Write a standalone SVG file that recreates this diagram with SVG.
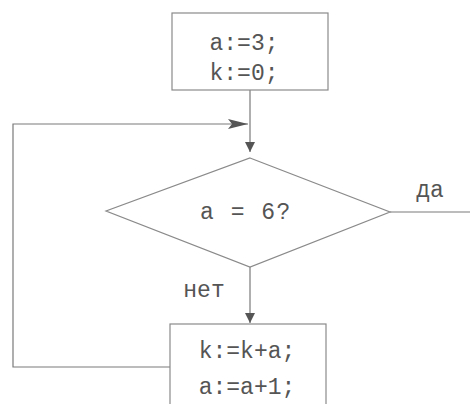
<svg xmlns="http://www.w3.org/2000/svg" width="470" height="404" viewBox="0 0 470 404">
<defs>
<style>
.box{fill:#fff;stroke:#8a8a8a;stroke-width:1.2}
.ln{fill:none;stroke:#7a7a7a;stroke-width:1.2}
.t{font-family:"Liberation Mono","Courier New",monospace;font-size:23px;fill:#555}
</style>
<marker id="ah" viewBox="0 0 10 10" refX="10" refY="5" markerWidth="10" markerHeight="10" markerUnits="userSpaceOnUse" orient="auto">
<path d="M0,0 L10,5 L0,10 z" fill="#555"/>
</marker>
<marker id="ahl" viewBox="0 0 20 10" refX="20" refY="5" markerWidth="20" markerHeight="10" markerUnits="userSpaceOnUse" orient="auto">
<path d="M0,0 L20,5 L0,10 L4,5 z" fill="#555"/>
</marker>
</defs>
<rect width="470" height="404" fill="#fff"/>
<g id="connectors">
<path class="ln" d="M250,90 V152" marker-end="url(#ah)"/>
<path class="ln" d="M170,367 H13 V124 H248" marker-end="url(#ahl)"/>
<path class="ln" d="M250,267 V323" marker-end="url(#ah)"/>
<path class="ln" d="M390,212 H470"/>
<text class="t" x="430" y="197" text-anchor="middle">да</text>
<text class="t" x="204" y="297" text-anchor="middle">нет</text>
</g>
<g id="init">
<rect class="box" x="172" y="13" width="156" height="77"/>
<text class="t" x="244" y="50" text-anchor="middle">a:=3;</text>
<text class="t" x="244" y="80" text-anchor="middle">k:=0;</text>
</g>
<g id="cond">
<polygon class="box" points="250,158 390,212 250,267 106,211"/>
<text class="t" x="246" y="219" text-anchor="middle" font-size="25" letter-spacing="1.5">a = 6?</text>
</g>
<g id="body">
<rect class="box" x="170" y="324" width="156" height="90"/>
<text class="t" x="247" y="358" text-anchor="middle" font-size="24">k:=k+a;</text>
<text class="t" x="247" y="394" text-anchor="middle" font-size="24">a:=a+1;</text>
</g>
</svg>
